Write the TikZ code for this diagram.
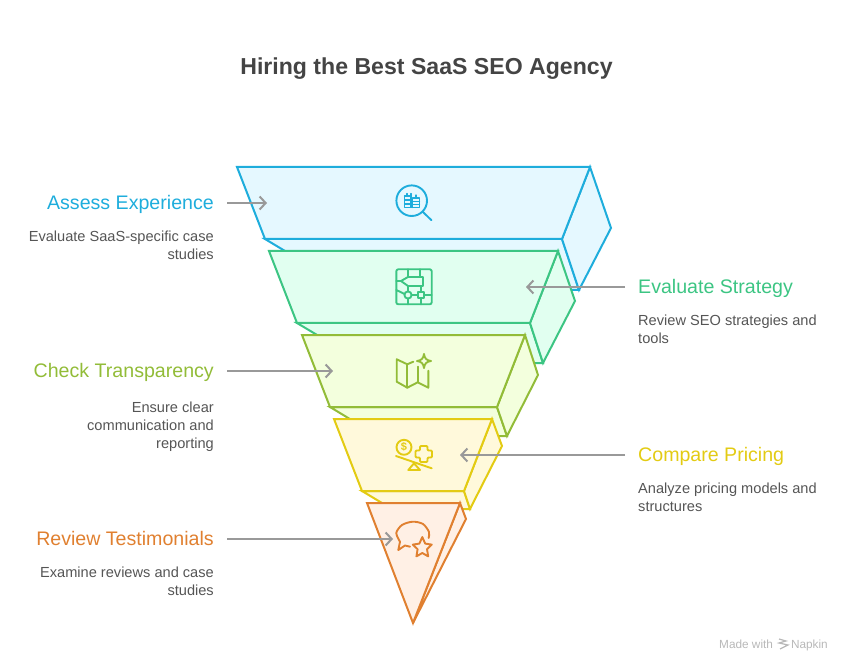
\documentclass[tikz,border=0pt]{standalone}
\usepackage{fontspec}
\setmainfont{Liberation Sans}
\usetikzlibrary{arrows.meta}
\definecolor{assessline}{HTML}{1EADDC}
\definecolor{assessfill}{HTML}{E5F8FF}
\definecolor{strategyline}{HTML}{3CC583}
\definecolor{strategyfill}{HTML}{E1FFF0}
\definecolor{transpline}{HTML}{92BC38}
\definecolor{transpfill}{HTML}{F3FFDD}
\definecolor{pricingline}{HTML}{E3CB13}
\definecolor{pricingfill}{HTML}{FFF9DB}
\definecolor{reviewline}{HTML}{E08030}
\definecolor{reviewfill}{HTML}{FFF0E5}
\definecolor{titlegray}{HTML}{444444}
\definecolor{bodygray}{HTML}{555555}
\definecolor{arrowgray}{HTML}{999999}
\tikzset{
    layer/.style={line width=2pt,line join=miter},
    icon/.style={line width=1.9pt,line join=round,line cap=round},
    heading/.style={font=\fontsize{19.6}{23}\selectfont,inner sep=0pt},
    body/.style={font=\fontsize{14.6}{18}\selectfont,text=bodygray,inner sep=0pt},
    pointer/.style={line width=2pt,draw=arrowgray,-{Straight Barb[length=6pt,width=13pt]}}
}
\begin{document}
\begin{tikzpicture}[x=1pt,y=-1pt]
    \useasboundingbox (0,0) rectangle (852,671);

    % top layer
    \filldraw[layer,draw=assessline,fill=assessfill] (265,239) -- (562,239) -- (579,290) -- (350,290) -- cycle;
    \filldraw[layer,draw=assessline,fill=assessfill] (590,167) -- (611,228) -- (579,290) -- (562,239) -- cycle;
    \filldraw[layer,draw=assessline,fill=assessfill] (237,167) -- (590,167) -- (562,239) -- (265,239) -- cycle;
    % second layer
    \filldraw[layer,draw=strategyline,fill=strategyfill] (297,323) -- (530,323) -- (543,363) -- (364,363) -- cycle;
    \filldraw[layer,draw=strategyline,fill=strategyfill] (558,251) -- (575,301) -- (543,363) -- (530,323) -- cycle;
    \filldraw[layer,draw=strategyline,fill=strategyfill] (269,251) -- (558,251) -- (530,323) -- (297,323) -- cycle;
    % third layer
    \filldraw[layer,draw=transpline,fill=transpfill] (330,407) -- (497,407) -- (507,436) -- (378,436) -- cycle;
    \filldraw[layer,draw=transpline,fill=transpfill] (525,335) -- (538,375) -- (507,436) -- (497,407) -- cycle;
    \filldraw[layer,draw=transpline,fill=transpfill] (302,335) -- (525,335) -- (497,407) -- (330,407) -- cycle;
    % fourth layer
    \filldraw[layer,draw=pricingline,fill=pricingfill] (362,491) -- (464,491) -- (470,509) -- (392,509) -- cycle;
    \filldraw[layer,draw=pricingline,fill=pricingfill] (492,419) -- (502,446) -- (470,509) -- (464,491) -- cycle;
    \filldraw[layer,draw=pricingline,fill=pricingfill] (334,419) -- (492,419) -- (464,491) -- (362,491) -- cycle;
    % tip
    \filldraw[layer,draw=reviewline,fill=reviewfill] (460,503) -- (466,519) -- (413,623) -- cycle;
    \filldraw[layer,draw=reviewline,fill=reviewfill] (367,503) -- (460,503) -- (413,623) -- cycle;

    % magnifier
    \draw[icon,draw=assessline] (411.7,200.7) circle (15.3);
    \draw[icon,draw=assessline] (422.7,211.7) -- (431.5,220.3);
    \draw[icon,draw=assessline,line width=1.3pt] (404.5,196) -- (404.5,207.5) -- (419.5,207.5) -- (419.5,198) -- (412.5,198) -- (412.5,207.5);
    \draw[icon,draw=assessline,line width=1.3pt] (404.5,196) -- (411,196) (407,193.5) -- (407,196) (416,195) -- (416,198) (411,193.5) -- (411,207.5);
    \draw[icon,draw=assessline,line width=1.3pt] (404.5,200) -- (411,200) (404.5,204) -- (411,204) (412.5,201.5) -- (419.5,201.5) (412.5,204.5) -- (419.5,204.5);
    % flow chip
    \draw[icon,draw=strategyline,rounded corners=2pt] (396.3,269.3) rectangle (431.7,304.3);
    \draw[icon,draw=strategyline] (408,277) -- (423,277) -- (423,286) -- (408,286) -- (401,281) -- cycle;
    \draw[icon,draw=strategyline] (408,269.3) -- (408,277) (420,269.3) -- (420,277) (396.3,281) -- (401,281);
    \draw[icon,draw=strategyline] (408,286) -- (408,291.3) (421,286) -- (421,292);
    \draw[icon,draw=strategyline] (408,295) circle (3.6);
    \draw[icon,draw=strategyline] (418,292) rectangle (424,298);
    \draw[icon,draw=strategyline] (411.6,295) -- (418,295) (424,295) -- (431.7,295) (396.3,290) -- (404.6,294);
    \draw[icon,draw=strategyline] (408,298.6) -- (408,304.3) (421,298) -- (421,304.3);
    % map
    \draw[icon,draw=transpline] (413.3,361.7) -- (407.3,364.3) -- (396.7,359.3) -- (396.7,381.7) -- (407.3,387.7) -- (417.7,382.3) -- (428.3,387.7) -- (428.3,370.7);
    \draw[icon,draw=transpline] (407.3,364.3) -- (407.3,387.7) (417.7,366.7) -- (417.7,382.3);
    \draw[icon,draw=transpline] (424,354) .. controls (424.6,358.5) and (426.5,360.4) .. (431,361) .. controls (426.5,361.6) and (424.6,363.5) .. (424,368) .. controls (423.4,363.5) and (421.5,361.6) .. (417,361) .. controls (421.5,360.4) and (423.4,358.5) .. (424,354) -- cycle;
    % scale
    \draw[icon,draw=pricingline] (404,447.3) circle (7.5);
    \node[text=pricingline,inner sep=0pt,font=\fontsize{11}{11}\selectfont\bfseries] (dollar) at (404,447.3) {\$};
    \draw[icon,draw=pricingline,rounded corners=1pt] (420,446) -- (427.5,446) -- (427.5,450.5) -- (432,450.5) -- (432,457.5) -- (427.5,457.5) -- (427.5,462) -- (420,462) -- (420,457.5) -- (415.5,457.5) -- (415.5,450.5) -- (420,450.5) -- cycle;
    \draw[icon,draw=pricingline] (396,456) -- (431.7,468.3);
    \draw[icon,draw=pricingline] (408.3,470) -- (420,470) -- (414,463.3) -- cycle;
    % chat
    \draw[icon,draw=reviewline] (410,546.7) -- (405,545.5) -- (398.3,550) -- (400,541.7);
    \draw[icon,draw=reviewline] plot [smooth] coordinates{(400,541.7) (396.3,533) (402,525) (412.7,521.7) (423,524) (429,532) (428.6,538)};
    \draw[icon,draw=reviewline] (422.3,537) -- (425.2,543.6) -- (431.8,544.6) -- (427,549.2) -- (428.2,556.4) -- (422.3,553) -- (416.4,556.4) -- (417.6,549.2) -- (412.8,544.6) -- (419.4,543.6) -- cycle;

    % title
    \node[font=\fontsize{23.1}{27}\selectfont\bfseries,text=titlegray,anchor=base] (title) at (426.5,75) {Hiring the Best SaaS SEO Agency};

    % left labels
    \node[heading,text=assessline,anchor=base east] (assess) at (214,209.5) {Assess Experience};
    \node[body,anchor=north east,align=right] (assessbody) at (214,230.5) {Evaluate SaaS-specific case\\studies};
    \node[heading,text=transpline,anchor=base east] (transp) at (214,377.5) {Check Transparency};
    \node[body,anchor=north east,align=right] (transpbody) at (214,401.5) {Ensure clear\\communication and\\reporting};
    \node[heading,text=reviewline,anchor=base east] (review) at (214,545.5) {Review Testimonials};
    \node[body,anchor=north east,align=right] (reviewbody) at (214,566.5) {Examine reviews and case\\studies};
    % right labels
    \node[heading,text=strategyline,anchor=base west] (strategy) at (638,293.5) {Evaluate Strategy};
    \node[body,anchor=north west,align=left] (strategybody) at (638,314.5) {Review SEO strategies and\\tools};
    \node[heading,text=pricingline,anchor=base west] (pricing) at (638,461.5) {Compare Pricing};
    \node[body,anchor=north west,align=left] (pricingbody) at (638,482.5) {Analyze pricing models and\\structures};

    % pointers
    \coordinate (assessout) at (227,203);
    \coordinate (assessin) at (267,203);
    \coordinate (strategyout) at (625,287);
    \coordinate (strategyin) at (526,287);
    \coordinate (transpout) at (227,371);
    \coordinate (transpin) at (333,371);
    \coordinate (pricingout) at (625,455);
    \coordinate (pricingin) at (460,455);
    \coordinate (reviewout) at (227,539);
    \coordinate (reviewin) at (393,539);
    \draw[pointer] (assessout) -- (assessin);
    \draw[pointer] (strategyout) -- (strategyin);
    \draw[pointer] (transpout) -- (transpin);
    \draw[pointer] (pricingout) -- (pricingin);
    \draw[pointer] (reviewout) -- (reviewin);

    % footer
    \node[anchor=base west,inner sep=0pt,text=black!28,font=\fontsize{11.8}{13}\selectfont] (made) at (719,648) {Made with};
    \node[anchor=base east,inner sep=0pt,text=black!28,font=\fontsize{11.8}{13}\selectfont] (napkin) at (828,648) {Napkin};
    \draw[line width=1.2pt,draw=black!28] (779,639) -- (786,641) -- (779,643) -- (788,645) -- (780,649);
\end{tikzpicture}
\end{document}
